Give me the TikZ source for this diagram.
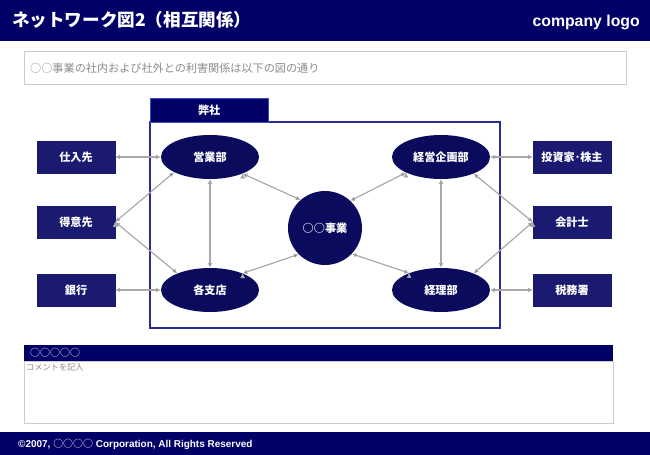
\documentclass[tikz,border=0pt]{standalone}
\usepackage{fontspec}
\setmainfont{Liberation Sans}
\newfontfamily\jp{Noto Sans CJK JP}
\usetikzlibrary{shapes.geometric,arrows.meta}

\definecolor{navy}{HTML}{000066}
\definecolor{boxblue}{HTML}{1A1A70}
\definecolor{ovalblue}{HTML}{0B0B5E}
\definecolor{frameblue}{HTML}{2B2B95}
\definecolor{tabblue}{HTML}{3A4FC0}
\definecolor{linegray}{HTML}{A8A8A8}
\definecolor{rulegray}{HTML}{CCCCCC}
\definecolor{txtgray}{HTML}{8A8A8A}

\tikzset{
	partner/.style={shape=rectangle, draw=boxblue, fill=boxblue, text=white, font=\jp\bfseries\fontsize{9.5}{11}\selectfont, minimum width=2.34cm, minimum height=0.96cm, inner sep=0pt},
	dept/.style={shape=ellipse, fill=ovalblue, text=white, font=\jp\bfseries\fontsize{9.5}{11}\selectfont, minimum width=2.94cm, minimum height=1.32cm, inner sep=0pt},
	link/.style={draw=linegray, line width=1pt, {Latex[length=4pt,width=4pt]}-{Latex[length=4pt,width=4pt]}}
}

\begin{document}
\begin{tikzpicture}[x=0.03cm,y=-0.03cm]
				\useasboundingbox (0,0) rectangle (650,455);
				% header
				\fill[navy] (0,0) rectangle (650,41);
				\node[anchor=west, inner sep=0pt, text=white, font=\jp\bfseries\fontsize{15}{18}\selectfont] (title) at (12,20) {ネットワーク図2（相互関係）};
				\node[anchor=east, inner sep=0pt, text=white, font=\bfseries\fontsize{13.5}{16}\selectfont] (logo) at (640,22) {company logo};
				% description
				\draw[rulegray] (24,51) rectangle (626,84);
				\node[anchor=west, inner sep=0pt, text=txtgray, font=\jp\fontsize{9.5}{11}\selectfont] (desc) at (30,68) {○○事業の社内および社外との利害関係は以下の図の通り};
				% company frame
				\draw[frameblue, line width=1.1pt] (150,122) rectangle (500,328);
				\node[shape=rectangle, draw=tabblue, fill=navy, text=white, anchor=north west, minimum width=3.54cm, minimum height=0.72cm, font=\jp\bfseries\fontsize{9.5}{11}\selectfont] (heisha) at (150,98) {弊社};
				% departments
				\node[dept] (eigyo) at (210,157) {営業部};
				\node[dept] (shiten) at (210,290) {各支店};
				\node[dept] (keiei) at (441,157) {経営企画部};
				\node[dept] (keiri) at (441,290) {経理部};
				\node[shape=circle, fill=ovalblue, text=white, minimum size=2.22cm, inner sep=0pt, font=\jp\bfseries\fontsize{9.5}{11}\selectfont] (jigyo) at (325,228) {○○事業};
				% partners
				\node[partner] (shiire) at (76,157) {仕入先};
				\node[partner] (tokui) at (76,222) {得意先};
				\node[partner] (ginko) at (76,290) {銀行};
				\node[partner] (toushi) at (572,157) {投資家･株主};
				\node[partner] (kaikei) at (572,222) {会計士};
				\node[partner] (zeimu) at (572,290) {税務署};
				% links
				\path[link] (shiire) edge (eigyo);
				\path[link] (tokui.east) edge (eigyo.203);
				\path[link] (tokui.east) edge (shiten.153);
				\path[link] (ginko) edge (shiten);
				\path[link] (eigyo) edge (shiten);
				\path[link] (eigyo.-27) edge (jigyo.131);
				\path[link] (shiten.27) edge (jigyo.225);
				\path[link] (keiei.204) edge (jigyo.47);
				\path[link] (keiri.152) edge (jigyo.-44);
				\path[link] (keiei) edge (keiri);
				\path[link] (keiei) edge (toushi);
				\path[link] (kaikei.west) edge (keiei.-27);
				\path[link] (kaikei.west) edge (keiri.27);
				\path[link] (keiri) edge (zeimu);
				% comment
				\fill[navy] (24,345) rectangle (613,361);
				\node[anchor=west, inner sep=0pt, text=white, font=\jp\fontsize{8.5}{10}\selectfont] (koumoku) at (30,353) {○○○○○};
				\draw[rulegray] (24,361) rectangle (613,423);
				\node[anchor=north west, inner sep=0pt, text=txtgray, font=\jp\fontsize{7}{8}\selectfont] (comment) at (26,364) {コメントを記入};
				% footer
				\fill[navy] (0,432) rectangle (650,455);
				\node[anchor=west, inner sep=0pt, text=white, font=\bfseries\fontsize{8.5}{10}\selectfont] (copy) at (18,444) {©2007, {\jp\mdseries ○○○○} Corporation, All Rights Reserved};
			\end{tikzpicture}
\end{document}
